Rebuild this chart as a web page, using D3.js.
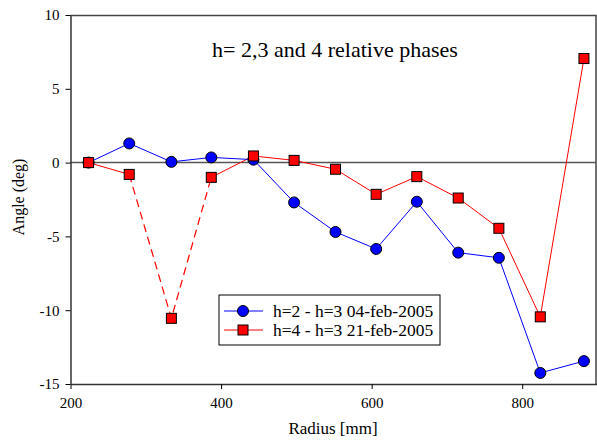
<!DOCTYPE html>
<html>
<head>
<meta charset="utf-8">
<script src="https://cdn.jsdelivr.net/npm/d3@7"></script>
<style>
  body { margin: 0; background: #fff; }
</style>
</head>
<body>
<div id="chart"></div>
<script>
// radius positions (mm) and the two phase series (deg)
var radius = [224, 278, 334, 387, 443, 497, 552, 606, 660, 715, 769, 824, 882];
var phase23 = [0, 1.3, 0.05, 0.35, 0.2, -2.7, -4.7, -5.85, -2.65, -6.1, -6.45, -14.25, -13.45];
var phase43 = [0, -0.8, -10.55, -1.0, 0.45, 0.15, -0.45, -2.15, -0.95, -2.4, -4.45, -10.45, 7.05];
var xTicks = [200, 400, 600, 800];
var yTicks = [-15, -10, -5, 0, 5, 10];
var legendLabels = ['h=2 - h=3 04-feb-2005', 'h=4 - h=3 21-feb-2005'];

var FONT = 'Liberation Serif';
var width = 597, height = 440;

var x = d3.scaleLinear().domain([200, 900]).range([70.5, 597.5]);
var y = d3.scaleLinear().domain([-15, 10]).range([384, 15]);

var svg = d3.select('#chart').append('svg')
  .attr('width', width)
  .attr('height', height);

// frame: top and right border
svg.append('path')
  .attr('d', 'M' + x(200) + ',' + (y(10) + 0.5) + 'H' + (x(900) - 1.5) + 'V' + y(-15))
  .attr('fill', 'none')
  .attr('stroke', '#444')
  .attr('stroke-width', 1.5);

// zero line
svg.append('line')
  .attr('x1', x(200)).attr('x2', x(900) - 1.5)
  .attr('y1', y(0)).attr('y2', y(0))
  .attr('stroke', '#555')
  .attr('stroke-width', 1.5);

var xAxis = svg.append('g')
  .attr('transform', 'translate(0,' + y(-15) + ')')
  .call(d3.axisBottom(x).tickValues(xTicks).tickFormat(String)
    .tickSize(5).tickPadding(8).tickSizeOuter(0));
var yAxis = svg.append('g')
  .attr('transform', 'translate(' + x(200) + ',0)')
  .call(d3.axisLeft(y).tickValues(yTicks).tickFormat(String)
    .tickSize(5).tickPadding(6).tickSizeOuter(0));

[xAxis, yAxis].forEach(function(a) {
  a.attr('font-family', null).attr('font-size', null);
  a.select('.domain').attr('stroke', '#333').attr('stroke-width', 1.5);
  a.selectAll('.tick line').attr('stroke', '#000');
  a.selectAll('.tick text')
    .attr('font-family', FONT)
    .attr('font-size', 15)
    .attr('fill', '#000');
});

// axis titles
svg.append('text')
  .attr('x', 333).attr('y', 434)
  .attr('text-anchor', 'middle')
  .attr('font-family', FONT)
  .attr('font-size', 17)
  .text('Radius [mm]');
svg.append('text')
  .attr('transform', 'translate(24,197) rotate(-90)')
  .attr('text-anchor', 'middle')
  .attr('font-family', FONT)
  .attr('font-size', 16)
  .text('Angle (deg)');

// chart title
svg.append('text')
  .attr('x', 335).attr('y', 57)
  .attr('text-anchor', 'middle')
  .attr('font-family', FONT)
  .attr('font-size', 22)
  .text('h= 2,3 and 4 relative phases');

var line = d3.line()
  .x(function(d) { return x(d[0]); })
  .y(function(d) { return y(d[1]); });

var blueData = d3.zip(radius, phase23);
var redData = d3.zip(radius, phase43);

// red: solid, dashed between 2nd and 4th point, solid again
svg.append('path')
  .attr('d', line(redData.slice(0, 2)))
  .attr('fill', 'none').attr('stroke', '#ff0000').attr('stroke-width', 1);
svg.append('path')
  .attr('d', line(redData.slice(1, 4)))
  .attr('fill', 'none').attr('stroke', '#ff0000').attr('stroke-width', 1.2)
  .attr('stroke-dasharray', '8,5');
svg.append('path')
  .attr('d', line(redData.slice(3)))
  .attr('fill', 'none').attr('stroke', '#ff0000').attr('stroke-width', 1);

svg.append('path')
  .attr('d', line(blueData))
  .attr('fill', 'none').attr('stroke', '#0000ff').attr('stroke-width', 1);

svg.selectAll('circle.blue')
  .data(blueData)
  .enter()
  .append('circle')
    .attr('class', 'blue')
    .attr('cx', function(d) { return x(d[0]); })
    .attr('cy', function(d) { return y(d[1]); })
    .attr('r', 5.5)
    .attr('fill', '#0000ff')
    .attr('stroke', '#000')
    .attr('stroke-width', 1);

svg.selectAll('rect.red')
  .data(redData)
  .enter()
  .append('rect')
    .attr('class', 'red')
    .attr('x', function(d) { return x(d[0]) - 5; })
    .attr('y', function(d) { return y(d[1]) - 5; })
    .attr('width', 10)
    .attr('height', 10)
    .attr('fill', '#ff0000')
    .attr('stroke', '#000')
    .attr('stroke-width', 1);

// legend
var legend = svg.append('g').attr('transform', 'translate(219,295)');
legend.append('rect')
  .attr('width', 221).attr('height', 50)
  .attr('fill', '#fff').attr('stroke', '#000').attr('stroke-width', 1);

var rows = legend.selectAll('g.row')
  .data(legendLabels)
  .enter()
  .append('g')
    .attr('class', 'row')
    .attr('transform', function(d, i) { return 'translate(0,' + (16 + i * 19) + ')'; });

rows.append('line')
  .attr('x1', 5).attr('x2', 44)
  .attr('stroke', function(d, i) { return i === 0 ? '#0000ff' : '#ff0000'; })
  .attr('stroke-width', 1);

rows.filter(function(d, i) { return i === 0; })
  .append('circle')
    .attr('cx', 24).attr('r', 5.5)
    .attr('fill', '#0000ff').attr('stroke', '#000');
rows.filter(function(d, i) { return i === 1; })
  .append('rect')
    .attr('x', 19).attr('y', -5).attr('width', 10).attr('height', 10)
    .attr('fill', '#ff0000').attr('stroke', '#000');

rows.append('text')
  .attr('x', 54).attr('dy', '0.35em')
  .attr('font-family', FONT)
  .attr('font-size', 17.5)
  .text(function(d) { return d; });
</script>
</body>
</html>
